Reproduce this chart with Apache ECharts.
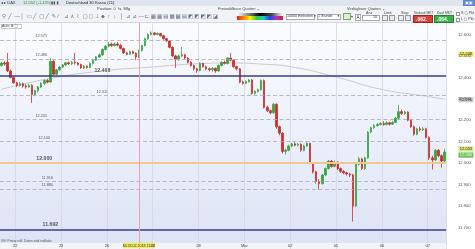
<!DOCTYPE html>
<html><head><meta charset="utf-8">
<script src="https://cdn.jsdelivr.net/npm/echarts@6/dist/echarts.min.js"></script>
<style>
html,body{margin:0;padding:0;width:475px;height:249px;overflow:hidden;background:#fff;font-family:"Liberation Sans","DejaVu Sans",Arial,sans-serif;}
#chart{position:absolute;left:0;top:0;width:475px;height:249px;}
#tb{position:absolute;left:0;top:0;width:475px;height:22px;background:#f1f3f6;border-bottom:1px solid #d4d8df;}
.t{position:absolute;white-space:nowrap;line-height:1;}
.b{position:absolute;box-sizing:border-box;}
</style></head><body>
<div id="chart"></div>
<div id="tb">
  <div class="b" style="left:0;top:0;width:475px;height:6px;background:#dfe5ee"></div>
  <div class="t" style="left:1px;top:1px;font-size:4px;color:#334">◂ ▸ DAX</div>
  <div class="t" style="left:23px;top:1px;font-size:4px;color:#2b8f2b">12.052 (-1,43%)</div>
  <div class="t" style="left:51px;top:1px;font-size:4px;color:#556">▮▮ ▮</div>
  <div class="t" style="left:66px;top:1px;font-size:4px;color:#222">Deutschland 30 Kassa (€1)</div>
  <div class="b" style="left:463px;top:0;width:12px;height:6px;background:#5b86d6"></div>
  <div class="t" style="left:465px;top:1px;font-size:4px;color:#fff">▣▣</div>
  <div class="t" style="left:97px;top:7px;font-size:4px;color:#444">Position: 0 &nbsp;⇆&nbsp; Mfg</div>
  <div class="t" style="left:218px;top:7px;font-size:4px;color:#444">Freiwählbare Quoten ⌄</div>
  <div class="t" style="left:347px;top:7px;font-size:4px;color:#444">Verfügbare Quoten ⌄</div>
  <div id="icons"></div>
  <div class="b" style="left:237px;top:13px;width:46px;height:3px;background:linear-gradient(90deg,#fff,#888,#000,#444,#fff)"></div>
  <div class="b" style="left:237px;top:16px;width:46px;height:4px;background:linear-gradient(90deg,#d22,#f80,#fe0,#3c3,#2cc,#24d,#a3c,#d22)"></div>
  <div class="b" style="left:286px;top:14px;width:29px;height:6px;background:#fff;border:0.5px solid #aab"></div>
  <div class="t" style="left:287px;top:15.3px;font-size:3.6px;color:#333">10000 Einheiten ▾</div>
  <div class="b" style="left:317px;top:14px;width:24px;height:6px;background:#fff;border:0.5px solid #aab"></div>
  <div class="t" style="left:318px;top:15.3px;font-size:3.6px;color:#333">1 Stunde &nbsp; &nbsp; ▾</div>
  <div class="b" style="left:343px;top:13px;width:8px;height:7px;background:#dfeccf;border:0.5px solid #7a6"></div>
  <div class="t" style="left:351px;top:15px;font-size:4px;color:#555">▾</div>
  <div class="b" style="left:355px;top:14px;width:6px;height:7px;background:#fff;border:0.5px solid #aab"></div>
  <div class="t" style="left:356.5px;top:15.5px;font-size:4.5px;color:#333">A</div>
  <div class="t" style="left:366px;top:11.5px;font-size:3.6px;color:#444">Anz</div>
  <div class="b" style="left:362px;top:15px;width:18px;height:6px;background:#fff;border:0.5px solid #aab"></div>
  <div class="t" style="left:373px;top:16px;font-size:3.6px;color:#333">10</div>
  <div class="t" style="left:384px;top:11.5px;font-size:3.6px;color:#444">Limit</div>
  <div class="b" style="left:382px;top:15px;width:6px;height:6px;background:#e8eaee;border:0.5px solid #999"></div>
  <div class="b" style="left:389px;top:15px;width:6px;height:6px;background:#e8eaee;border:0.5px solid #999"></div>
  <div class="t" style="left:401px;top:11.5px;font-size:3.6px;color:#444">Stop</div>
  <div class="b" style="left:398px;top:15px;width:6px;height:6px;background:#e8eaee;border:0.5px solid #999"></div>
  <div class="b" style="left:405px;top:15px;width:6px;height:6px;background:#e8eaee;border:0.5px solid #999"></div>
  <div class="t" style="left:414px;top:11.5px;font-size:3.4px;color:#444">Verkauf MKT</div>
  <div class="b" style="left:413px;top:15px;width:20px;height:8px;background:#d9403a;border:0.5px solid #a22"></div>
  <div class="t" style="left:416px;top:16.5px;font-size:5px;font-weight:bold;color:#fff">.062.</div>
  <div class="t" style="left:437px;top:11.5px;font-size:3.4px;color:#444">Kauf MKT</div>
  <div class="b" style="left:434px;top:15px;width:20px;height:8px;background:#3fae49;border:0.5px solid #283"></div>
  <div class="t" style="left:437px;top:16.5px;font-size:5px;font-weight:bold;color:#fff">.064.</div>
  <div class="b" style="left:456px;top:12px;width:4px;height:4px;background:#fff;border:0.5px solid #999"></div>
  <div class="b" style="left:456px;top:18px;width:4px;height:4px;background:#fff;border:0.5px solid #999"></div>
  <div class="t" style="left:461px;top:12px;font-size:3.6px;color:#444">S ▢ Pkt</div>
  <div class="t" style="left:461px;top:18px;font-size:3.6px;color:#444">L ▢ Pkt</div>
</div>
<div class="b" style="left:1px;top:24px;width:21px;height:5px;background:#fff;border:0.5px solid #c4c8d0"></div>
<div class="t" style="left:2px;top:24.8px;font-size:3.6px;color:#444">Auto ⚙ ▢</div>
<div class="t" style="left:1px;top:239.5px;font-size:3.2px;color:#555">IG® Preise inkl. Daten sind indikativ</div>
<script>
// ---------- data ----------
const dayLabels = ['21','22','23','26','27','28','Mar','02','05','06','07'];
const candlesPerDay = [5,15,15,15,15,15,15,15,15,15,6];
// hourly candles: [open, close, low, high]
const ohlc = [
[12455,12467,12450,12472],[12467,12462,12455,12475],[12470,12430,12425,12514],[12430,12400,12395,12435],[12400,12375,12370,12405],
[12375,12362,12355,12380],[12362,12370,12356,12378],[12370,12360,12352,12375],[12360,12355,12348,12368],[12355,12363,12350,12370],
[12363,12320,12281,12368],[12320,12338,12312,12342],[12338,12355,12330,12360],[12355,12372,12350,12378],[12372,12385,12365,12390],
[12385,12378,12372,12392],[12378,12475,12375,12490],[12475,12415,12410,12480],[12415,12435,12408,12440],[12435,12448,12430,12452],
[12448,12458,12442,12462],[12458,12468,12452,12472],[12468,12463,12458,12474],[12463,12470,12458,12476],[12470,12467,12460,12514],
[12467,12460,12455,12472],[12460,12444,12440,12464],[12444,12452,12438,12458],[12452,12446,12440,12456],[12446,12465,12442,12470],
[12465,12480,12460,12484],[12480,12495,12476,12500],[12495,12505,12490,12510],[12505,12530,12500,12535],[12530,12545,12525,12550],
[12545,12555,12540,12565],[12555,12548,12542,12562],[12548,12556,12544,12562],[12556,12550,12545,12565],[12550,12535,12530,12554],
[12535,12514,12510,12538],[12514,12508,12503,12520],[12508,12520,12504,12524],[12520,12512,12508,12525],[12512,12495,12481,12516],
[12495,12525,12490,12530],[12525,12548,12520,12552],[12548,12580,12545,12585],[12580,12600,12575,12605],[12600,12607,12596,12614],
[12607,12600,12595,12612],[12600,12604,12596,12610],[12604,12594,12590,12608],[12594,12580,12576,12598],[12580,12570,12565,12584],
[12570,12540,12535,12574],[12540,12500,12495,12545],[12500,12485,12444,12505],[12485,12500,12478,12505],[12500,12505,12495,12542],
[12505,12490,12485,12510],[12490,12470,12465,12494],[12470,12455,12450,12475],[12455,12440,12432,12460],[12440,12432,12421,12445],
[12432,12465,12428,12470],[12465,12450,12445,12468],[12450,12440,12432,12455],[12440,12435,12428,12446],[12435,12442,12426,12448],
[12442,12430,12421,12446],[12430,12455,12426,12460],[12455,12470,12450,12475],[12470,12465,12460,12478],[12465,12490,12460,12494],
[12490,12480,12475,12514],[12480,12450,12445,12484],[12450,12440,12432,12455],[12440,12378,12372,12444],[12378,12372,12366,12385],
[12372,12380,12368,12386],[12380,12388,12376,12392],[12388,12325,12319,12392],[12325,12335,12320,12340],[12335,12342,12330,12348],
[12342,12385,12338,12390],[12385,12260,12255,12390],[12260,12245,12238,12268],[12245,12235,12228,12250],[12235,12275,12230,12281],
[12275,12170,12160,12278],[12170,12140,12130,12175],[12140,12055,12045,12145],[12055,12060,12040,12068],[12060,12080,12055,12086],
[12080,12090,12074,12095],[12090,12084,12078,12098],[12084,12088,12078,12094],[12088,12060,12053,12092],[12060,12080,12055,12086],
[12080,12092,12076,12098],[12092,12000,11995,12095],[12000,11960,11952,12005],[11960,11915,11905,11965],[11915,11905,11877,11925],
[11905,11945,11900,11950],[11945,11975,11940,11980],[11975,12010,11970,12015],[12010,11985,11978,12015],[11985,12005,11980,12012],
[12005,11975,11968,12008],[11975,11962,11955,11980],[11962,11955,11948,11968],[11955,11950,11942,11960],[11950,11945,11935,11955],
[11945,11800,11728,11950],[11800,11995,11795,12005],[11995,12020,11990,12030],[12020,11975,11968,12025],[11975,12025,11968,12030],
[12025,12145,12020,12150],[12145,12165,12140,12170],[12165,12175,12160,12182],[12175,12180,12170,12188],[12180,12185,12175,12192],
[12185,12180,12175,12195],[12180,12188,12176,12195],[12188,12182,12175,12192],[12182,12190,12178,12196],[12190,12210,12186,12215],
[12210,12240,12205,12272],[12240,12232,12225,12250],[12232,12238,12225,12245],[12238,12200,12195,12242],[12200,12170,12165,12205],
[12170,12135,12128,12175],[12135,12160,12130,12165],[12160,12155,12148,12170],[12155,12160,12150,12168],[12160,12120,12115,12165],
[12120,12025,12015,12125],[12025,12015,11970,12035],[12015,12060,12010,12066],[12060,12035,12028,12065],[12035,12010,11979,12040],
[12010,12052,12005,12068]
];
// moving average, read at a few candles
const maIndex = [0,16,33,49,65,75,85,95,110,124,140,145];
const maValue = [12345,12395,12430,12448,12464,12467,12462,12449,12400,12345,12310,12298];
// drawn horizontal levels
const levelValues = [12575,12486,12408,12315,12205,12100,12000,11916,11880,11692];
const levelTexts  = ['12.575','12.486','12.408','12.315','12.205','12.100','12.000','11.916','11.880','11.692'];
const levelKinds  = ['dashed','dashed','navy','dashed','dashed','dashed','orange','dashed','dashed','navy'];
// price tags on the right axis
const tagValues = [12508,12296,12053,12050];
const tagTexts  = ['12.508','12.296','12.053','12.050'];
// crosshair
const crossIndex = 45;
const crossText = 'Mi 28.02.2018 11:00';
const yMin = 11600, yMax = 12700, yStep = 100;
const yTickLabelMin = 11700, yTickLabelMax = 12600;

// ---------- layout / style ----------
const levelLabelAt = [13,13,33,33,13,14,14,15,15,16];
const kindStyle = {
  dashed:{color:'#a9a9b2',width:0.8,type:[4,2.5]},
  navy:{color:'#3b3d8a',width:1.5,type:'solid'},
  orange:{color:'#f3c88f',width:2,type:'solid'}
};
const kindLabel = {
  dashed:{fontSize:3.8,fontWeight:'normal',distance:1.5},
  navy:{fontSize:5.2,fontWeight:'bold',distance:2.5},
  orange:{fontSize:5.2,fontWeight:'bold',distance:2.5}
};
const tagStyle = [
  {bg:'#efe85c',fg:'#333',dy:0},
  {bg:'#c9c9ce',fg:'#444',dy:0},
  {bg:'#d3e77a',fg:'#333',dy:-2.8},
  {bg:'#6cbf5a',fg:'#fff',dy:2.6}
];

// icons row
(function(){
  const g = '⚲╱—│▭╱▢╱✎⁄⊿⋏⌇▢◻⊥⬥↑↓│⊿⊿—⊏▦▦▤▩▦▤◩◩◩◩◪'.split('');
  const host = document.getElementById('icons');
  g.forEach((c,k)=>{
    const s = document.createElement('div');
    s.className='t';
    s.style.left=(2+k*6.2)+'px'; s.style.top='13.5px'; s.style.fontSize='5.5px';
    s.style.color = c==='↑' ? '#2a9a2a' : (c==='↓' ? '#d22' : '#68708a');
    s.textContent=c; host.appendChild(s);
  });
})();

// ---------- build ----------
const categories = [];
const dayStart = new Set();
const labelAt = new Set();
dayLabels.forEach((d,k)=>{
  const start = categories.length;
  if (k>0){ dayStart.add(start); labelAt.add(start); }
  for (let h=0; h<candlesPerDay[k]; h++) categories.push(d+' #'+(h+1));
});
const maData = categories.map(()=>null);
maIndex.forEach((ix,k)=>{ maData[ix]=maValue[k]; });

const last = categories[categories.length-1];
const markLines = levelValues.map((v,k)=>({yAxis:v, lineStyle:kindStyle[levelKinds[k]]}));
markLines.push({xAxis:categories[crossIndex], lineStyle:{color:'#e6a3b3',width:1,type:'solid'}});

const markPoints = tagValues.map((v,k)=>({
  coord:[last, v], symbol:'rect', symbolSize:[15,5.2], symbolOffset:[21.5, tagStyle[k].dy],
  itemStyle:{color:tagStyle[k].bg},
  label:{show:true, position:'inside', formatter:tagTexts[k], fontSize:4, color:tagStyle[k].fg}
}));
markPoints.push({
  coord:[categories[crossIndex], 11616], symbol:'rect', symbolSize:[32,5.5], symbolOffset:[0,0],
  itemStyle:{color:'#f1ec5f'},
  label:{show:true, position:'inside', formatter:crossText, fontSize:3.6, color:'#333'}
});

const levelLabelData = levelValues.map((v,k)=>{
  const ls = kindLabel[levelKinds[k]];
  return {value:[levelLabelAt[k], v],
    label:{formatter:levelTexts[k], fontSize:ls.fontSize, fontWeight:ls.fontWeight, distance:ls.distance}};
});

const chart = echarts.init(document.getElementById('chart'), null, {renderer:'canvas'});
chart.setOption({
  animation:false,
  grid:{left:0, top:13, width:446, height:236.5, show:true, borderWidth:0, z:0,
    backgroundColor:new echarts.graphic.LinearGradient(0,0,0,1,[{offset:0,color:'#fcfdff'},{offset:1,color:'#dde3f6'}])},
  graphic:[{type:'rect', shape:{x:0,y:243,width:446,height:6}, style:{fill:'#f2f4f8'}, z:1, silent:true}],
  xAxis:{type:'category', data:categories, boundaryGap:true, offset:-6.5, z:5,
    axisLine:{show:false}, axisTick:{show:false},
    axisLabel:{interval:(i)=>labelAt.has(i), formatter:(v)=>v.split(' ')[0], fontSize:4, color:'#444',
      margin:1.5, padding:[0,3,0,0], fontFamily:'Liberation Sans'},
    splitLine:{show:true, interval:(i)=>dayStart.has(i), lineStyle:{color:'#d3d7e1', width:0.8}}},
  yAxis:{type:'value', position:'right', min:yMin, max:yMax, interval:yStep, z:5,
    axisLine:{show:false}, axisTick:{show:false}, splitLine:{show:false},
    axisLabel:{fontSize:4.2, color:'#555', margin:12, fontFamily:'Liberation Sans',
      formatter:(v)=> (v<yTickLabelMin || v>yTickLabelMax) ? '' : (v/1000).toFixed(3)}},
  series:[
    {type:'line', data:maData, connectNulls:true, smooth:0.5, symbol:'none', silent:true, z:2,
      lineStyle:{color:'#cdc8d0', width:1}},
    {type:'candlestick', data:ohlc, barWidth:2, z:3, silent:true,
      itemStyle:{color:'#37a442', color0:'#c8312c', borderColor:'#37a442', borderColor0:'#c8312c', borderWidth:0.8},
      markLine:{symbol:['none','none'], silent:true, label:{show:false}, data:markLines, animation:false}},
    {type:'scatter', data:levelLabelData, symbolSize:0, silent:true, clip:false, z:4,
      label:{show:true, position:'top', color:'#333', fontFamily:'Liberation Sans'},
      markPoint:{data:markPoints, silent:true, animation:false}}
  ]
});
</script>
</body></html>
